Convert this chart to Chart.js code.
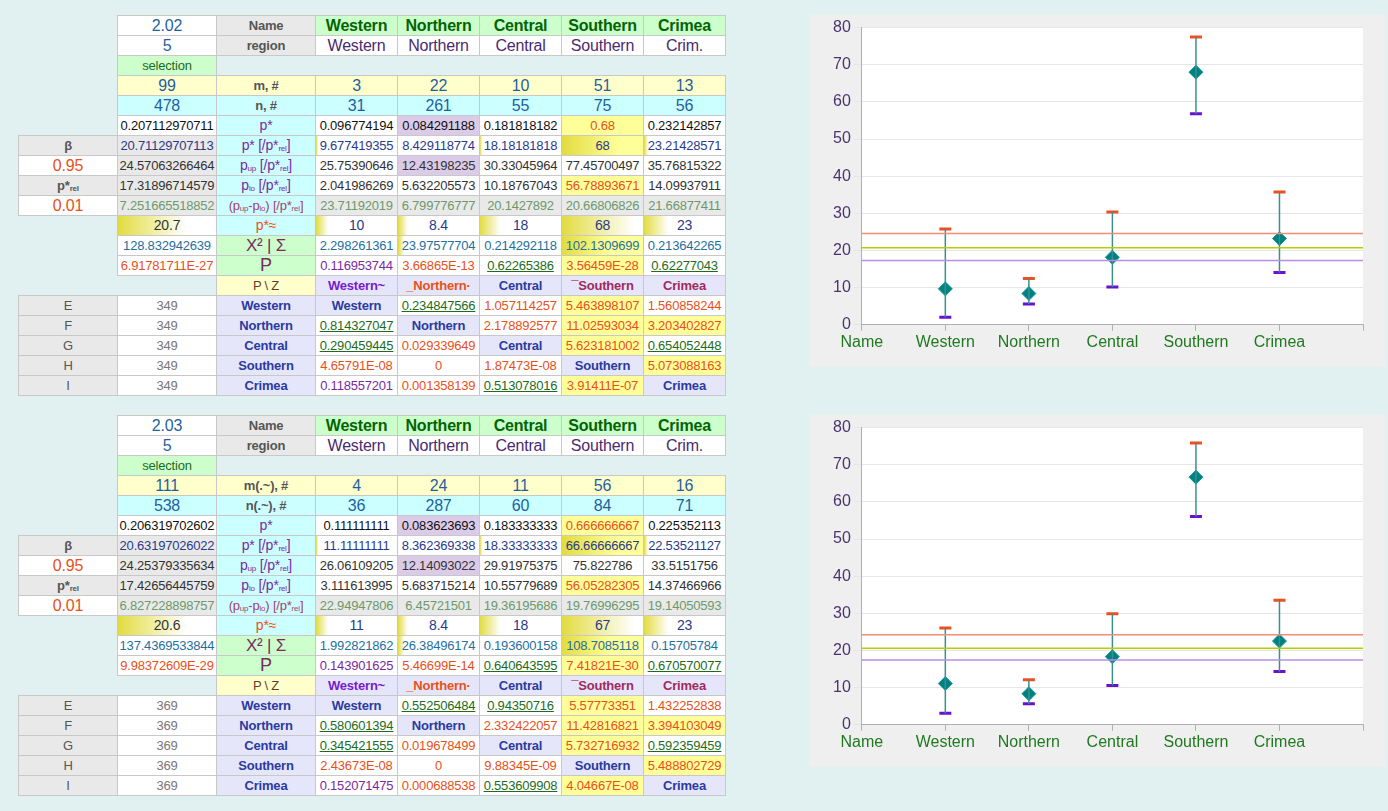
<!DOCTYPE html>
<html><head><meta charset="utf-8">
<script src="https://cdn.jsdelivr.net/npm/chart.js@4"></script>
<style>
body{margin:0;background:#e1f1f1;font-family:"Liberation Sans",Arial,sans-serif;width:1388px;height:811px;position:relative;overflow:hidden}
.c{position:absolute;height:19px;line-height:19px;border:1px solid #c8c8c8;box-sizing:content-box;text-align:center;font-size:13px;letter-spacing:-0.2px;white-space:nowrap;overflow:hidden;color:#222}
.panel{position:absolute;background:#efefef;width:575px;height:352px;left:810px}
sub{font-size:8px;vertical-align:-1px}
</style></head><body>
<div class="panel" style="top:15px"><canvas id="ch1"></canvas></div>
<div class="panel" style="top:415px"><canvas id="ch2"></canvas></div>
<script>
// chart data
const labels = ['Name','Western','Northern','Central','Southern','Crimea',''];
const regions = ['Western','Northern','Central','Southern','Crimea'];
const pStar1 = [9.677419355, 8.429118774, 18.18181818, 68, 23.21428571];
const pUp1 = [25.75390646, 12.43198235, 30.33045964, 77.45700497, 35.76815322];
const pLo1 = [2.041986269, 5.632205573, 10.18767043, 56.78893671, 14.09937911];
const ref1 = [24.57063266464, 20.71129707113, 17.31896714579];
const pStar2 = [11.11111111, 8.362369338, 18.33333333, 66.66666667, 22.53521127];
const pUp2 = [26.06109205, 12.14093022, 29.91975375, 75.822786, 33.5151756];
const pLo2 = [3.111613995, 5.683715214, 10.55779689, 56.05282305, 14.37466966];
const ref2 = [24.25379335634, 20.63197026022, 17.42656445759];

const whiteBg = {id:'whiteBg', beforeDraw(c){const a=c.chartArea,x=c.ctx;x.save();x.fillStyle='#fff';x.fillRect(a.left,a.top,a.right-a.left,a.bottom-a.top);x.restore();}};

function makeChart(id, ps, up, lo, ref) {
  const ds = [];
  const refCol = ['#f08c78', '#b8cc00', '#b98ee8'];
  ref.forEach((v, i) => ds.push({type:'line', data: labels.map(() => v), borderColor: refCol[i], borderWidth: 1.5, pointRadius: 0}));
  regions.forEach((r, i) => ds.push({type:'line', data:[{x:r,y:lo[i]},{x:r,y:up[i]}], borderColor:'#3a9090', borderWidth:1.5, pointRadius:0}));
  ds.push({type:'line', data: regions.map((r,i)=>({x:r,y:up[i]})), showLine:false, pointStyle:'line', pointRadius:6, pointBorderWidth:3, pointBorderColor:'#f04e1e'});
  ds.push({type:'line', data: regions.map((r,i)=>({x:r,y:lo[i]})), showLine:false, pointStyle:'line', pointRadius:6, pointBorderWidth:3, pointBorderColor:'#6a10d0'});
  ds.push({type:'line', data: regions.map((r,i)=>({x:r,y:ps[i]})), showLine:false, pointStyle:'rectRot', pointRadius:7, pointBackgroundColor:'#008080', pointBorderColor:'#1a9a9a', pointBorderWidth:1});
  new Chart(document.getElementById(id), {
    type:'line', data:{labels, datasets:ds}, plugins:[whiteBg],
    options:{responsive:false, animation:false, events:[],
      layout:{padding:{left:20,right:22,top:9,bottom:13}},
      plugins:{legend:{display:false}, tooltip:{enabled:false}},
      scales:{
        x:{offset:false, grid:{display:true, drawOnChartArea:false, drawTicks:true, tickLength:6, color:'#b0b0b0'}, border:{color:'#b0b0b0'},
           ticks:{color:'#1f7a1f', font:{size:16, family:'Liberation Sans'}, padding:2}},
        y:{min:0, max:80, ticks:{stepSize:10, color:'#4a3470', font:{size:16, family:'Liberation Sans'}},
           grid:{color:'#e6e6e6'}, border:{color:'#b0b0b0'}}
      }}
  });
}
document.getElementById('ch1').width=575;document.getElementById('ch1').height=352;
document.getElementById('ch2').width=575;document.getElementById('ch2').height=352;
makeChart('ch1', pStar1, pUp1, pLo1, ref1);
makeChart('ch2', pStar2, pUp2, pLo2, ref2);

// table
const colX = [18,117,216,315,397,479,561,643,725];
function cell(top, r, col, txt, bg, fg, extra) {
  const d = document.createElement('div');
  d.className = 'c';
  d.style.left = colX[col] + 'px';
  d.style.top = (top + r*20) + 'px';
  d.style.width = (colX[col+1]-colX[col]-1) + 'px';
  d.style.background = bg || '#fff';
  d.style.color = fg || '#222';
  if (extra) d.style.cssText += extra;
  d.innerHTML = txt;
  document.body.appendChild(d);
}
const G='#e9e9e9', CY='#ccffff', YL='#ffffcc', GR='#ccffcc', LV='#e6e6fa', PU='#dccbe8', YY='#ffff99';
const BL='#1f5fa0', PR='#7a2aa0', OR='#e8501a', DG='#1e6b1e', GY='#555';
const bar = w => `background:linear-gradient(to right,#e2dc40 0,#fff ${w}%);`;
function table(top, t) {
  cell(top,0,1,t.ver,'#fff',BL,'font-size:16px');
  cell(top,0,2,'Name',G,GY,'font-weight:bold;font-size:13px');
  regions.forEach((r,i)=>cell(top,0,3+i,r,GR,'#006400','font-weight:bold;font-size:16px'));
  cell(top,1,1,'5','#fff',BL,'font-size:16px');
  cell(top,1,2,'region',G,GY,'font-weight:bold;font-size:13px');
  ['Western','Northern','Central','Southern','Crim.'].forEach((r,i)=>cell(top,1,3+i,r,'#fff','#4a2a70','font-size:16px'));
  cell(top,2,1,'selection',GR,DG,'font-size:13px');
  cell(top,3,1,t.m,YL,BL,'font-size:16px'); cell(top,3,2,t.mLab,YL,GY,'font-weight:bold;font-size:13px');
  t.ms.forEach((v,i)=>cell(top,3,3+i,v,YL,BL,'font-size:16px'));
  cell(top,4,1,t.n,CY,BL,'font-size:16px'); cell(top,4,2,t.nLab,CY,GY,'font-weight:bold;font-size:13px');
  t.ns.forEach((v,i)=>cell(top,4,3+i,v,CY,BL,'font-size:16px'));
  cell(top,5,1,t.p,'#fff','#111'); cell(top,5,2,'p*',CY,PR,'font-size:14px');
  t.pr.forEach((v,i)=>cell(top,5,3+i,v,i==1?PU:i==3?YY:'#fff',i==3?OR:'#111'));
  cell(top,6,0,'β',G,GY,'font-weight:bold'); cell(top,6,1,t.b,G,'#2a3a8a'); cell(top,6,2,'p* [/p*<sub>rel</sub>]',CY,PR,'font-size:14px');
  t.r7.forEach((v,i)=>cell(top,6,3+i,v,'#fff','#2a3a8a',[bar(3),'',bar(3),'background:linear-gradient(to right,#e2dc40,#ffff99 70%);',bar(5)][i]));
  cell(top,7,0,'0.95','#fff',OR,'font-size:16px'); cell(top,7,1,t.up,G,'#333'); cell(top,7,2,'p<sub>up</sub> [/p*<sub>rel</sub>]',CY,PR,'font-size:14px');
  t.r8.forEach((v,i)=>cell(top,7,3+i,v,i==1?PU:'#fff','#333'));
  cell(top,8,0,'p*<sub>rel</sub>',G,GY,'font-weight:bold'); cell(top,8,1,t.lo,G,'#333'); cell(top,8,2,'p<sub>lo</sub> [/p*<sub>rel</sub>]',CY,PR,'font-size:14px');
  t.r9.forEach((v,i)=>cell(top,8,3+i,v,i==3?YY:'#fff',i==3?OR:'#333'));
  cell(top,9,0,'0.01','#fff',OR,'font-size:16px'); cell(top,9,1,t.d,G,'#6a9a6a'); cell(top,9,2,'(p<sub>up</sub>-p<sub>lo</sub>) [/p*<sub>rel</sub>]',CY,'#a04070','font-size:13px');
  t.r10.forEach((v,i)=>cell(top,9,3+i,v,G,'#6a9a6a'));
  cell(top,10,1,t.ap,'#fff','#333','font-size:14px;'+bar(70)); cell(top,10,2,'p*≈',CY,OR,'font-size:14px');
  t.r11.forEach((v,i)=>cell(top,10,3+i,v,'#fff','#2a3a8a','font-size:14px;'+[bar(15),bar(12),bar(25),'background:linear-gradient(to right,#e2dc40,#fff 90%);',bar(30)][i]));
  cell(top,11,1,t.x,'#fff','#1f6fa0'); cell(top,11,2,'X² | Σ',GR,'#7a2a60','font-size:17px');
  t.r12.forEach((v,i)=>cell(top,11,3+i,v,i==3?YY:'#fff','#1f6fa0',i==1?bar(8):i==3?'background:linear-gradient(to right,#e2dc40,#ffff99 60%);':''));
  cell(top,12,1,t.P,'#fff',OR); cell(top,12,2,'P',GR,'#7a2a60','font-size:18px');
  t.r13.forEach((v,i)=>cell(top,12,3+i,v,i==3?YY:'#fff',[PR,OR,DG,OR,DG][i],(i==2||i==4)?'text-decoration:underline':''));
  cell(top,13,2,'P \\ Z',YL,'#6a3a2a');
  ['Western~','_Northern·','Central','¯Southern','Crimea'].forEach((v,i)=>cell(top,13,3+i,v,LV,['#7a1ad0',OR,'#2a3aa0','#a02a5a','#a02a5a'][i],'font-weight:bold;font-size:13px'));
  ['E','F','G','H','I'].forEach((L,r)=>{
    cell(top,14+r,0,L,G,GY,'font-size:13px'); cell(top,14+r,1,t.N,'#fff','#777','font-size:13px');
    cell(top,14+r,2,regions[r],LV,'#2a3aa0','font-weight:bold;font-size:13px');
    t.mat[r].forEach((v,i)=>{
      if (i==r) { cell(top,14+r,3+i,regions[r],LV,'#2a3aa0','font-weight:bold;font-size:13px'); return; }
      const x = parseFloat(v);
      let fg = x<0.05?OR:x<0.2?PR:DG, bg='#fff', ex='';
      if (x>=0.2 && x<1) ex='text-decoration:underline';
      if (i==3 && x>=1e-8) bg=YY;
      if (x>3) {bg=YY; fg=OR;}
      if (x>1&&x<=3) {fg=OR;}
      if (v=='0') fg=OR;
      cell(top,14+r,3+i,v,bg,fg,ex);
    });
  });
}
table(15, {ver:'2.02', m:'99', n:'478', mLab:'m, #', nLab:'n, #', ms:['3','22','10','51','13'], ns:['31','261','55','75','56'],
  p:'0.207112970711', pr:['0.096774194','0.084291188','0.181818182','0.68','0.232142857'],
  b:'20.71129707113', r7:['9.677419355','8.429118774','18.18181818','68','23.21428571'],
  up:'24.57063266464', r8:['25.75390646','12.43198235','30.33045964','77.45700497','35.76815322'],
  lo:'17.31896714579', r9:['2.041986269','5.632205573','10.18767043','56.78893671','14.09937911'],
  d:'7.251665518852', r10:['23.71192019','6.799776777','20.1427892','20.66806826','21.66877411'],
  ap:'20.7', r11:['10','8.4','18','68','23'],
  x:'128.832942639', r12:['2.298261361','23.97577704','0.214292118','102.1309699','0.213642265'],
  P:'6.91781711E-27', r13:['0.116953744','3.66865E-13','0.62265386','3.56459E-28','0.62277043'],
  N:'349', mat:[['','0.234847566','1.057114257','5.463898107','1.560858244'],
   ['0.814327047','','2.178892577','11.02593034','3.203402827'],
   ['0.290459445','0.029339649','','5.623181002','0.654052448'],
   ['4.65791E-08','0','1.87473E-08','','5.073088163'],
   ['0.118557201','0.001358139','0.513078016','3.91411E-07','']]});
table(415, {ver:'2.03', m:'111', n:'538', mLab:'m(.~), #', nLab:'n(.~), #', ms:['4','24','11','56','16'], ns:['36','287','60','84','71'],
  p:'0.206319702602', pr:['0.111111111','0.083623693','0.183333333','0.666666667','0.225352113'],
  b:'20.63197026022', r7:['11.11111111','8.362369338','18.33333333','66.66666667','22.53521127'],
  up:'24.25379335634', r8:['26.06109205','12.14093022','29.91975375','75.822786','33.5151756'],
  lo:'17.42656445759', r9:['3.111613995','5.683715214','10.55779689','56.05282305','14.37466966'],
  d:'6.827228898757', r10:['22.94947806','6.45721501','19.36195686','19.76996295','19.14050593'],
  ap:'20.6', r11:['11','8.4','18','67','23'],
  x:'137.4369533844', r12:['1.992821862','26.38496174','0.193600158','108.7085118','0.15705784'],
  P:'9.98372609E-29', r13:['0.143901625','5.46699E-14','0.640643595','7.41821E-30','0.670570077'],
  N:'369', mat:[['','0.552506484','0.94350716','5.57773351','1.432252838'],
   ['0.580601394','','2.332422057','11.42816821','3.394103049'],
   ['0.345421555','0.019678499','','5.732716932','0.592359459'],
   ['2.43673E-08','0','9.88345E-09','','5.488802729'],
   ['0.152071475','0.000688538','0.553609908','4.04667E-08','']]});
</script>
</body></html>
